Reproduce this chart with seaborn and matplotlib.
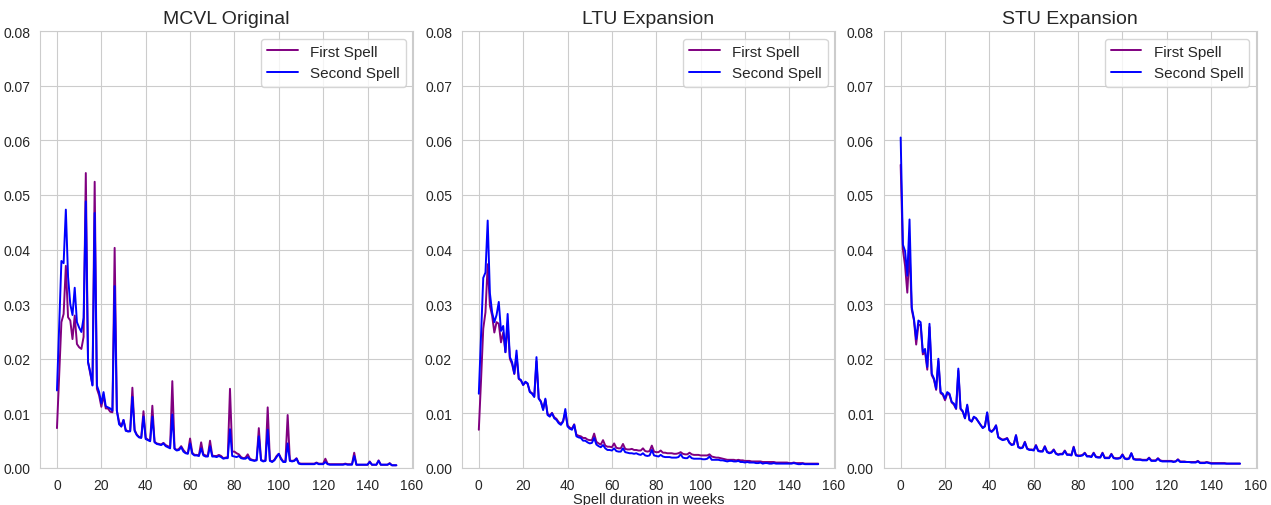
import numpy as np
import pandas as pd
from matplotlib import pyplot as plt
import seaborn as sns

# weekly exit shares (in units of 1/10000), weeks 0..153
mcvl_first = [73, 170, 267, 282, 370, 276, 270, 236, 279, 227, 221, 218, 240, 540, 194, 173, 152, 524, 145, 133,
              112, 133, 109, 109, 103, 102, 403, 105, 85, 76, 88, 70, 67, 68, 147, 70, 61, 57, 56, 104,
              55, 52, 50, 114, 48, 45, 44, 43, 46, 42, 40, 38, 159, 36, 33, 35, 40, 33, 28, 27,
              54, 28, 24, 24, 23, 47, 25, 23, 22, 50, 23, 22, 22, 24, 22, 18, 19, 20, 145, 30,
              30, 27, 25, 20, 18, 19, 25, 17, 15, 14, 15, 73, 15, 13, 14, 111, 14, 12, 15, 22,
              26, 18, 12, 12, 97, 14, 13, 14, 18, 9, 8, 8, 8, 8, 8, 8, 8, 10, 8, 8,
              8, 17, 8, 7, 7, 7, 7, 7, 7, 7, 8, 7, 7, 7, 28, 6, 6, 6, 6, 6,
              6, 12, 6, 6, 6, 14, 6, 6, 6, 6, 9, 5, 5, 5]
mcvl_second = [142, 260, 379, 375, 473, 350, 300, 280, 330, 267, 257, 249, 275, 488, 194, 176, 151, 467, 151, 139,
               118, 139, 113, 111, 109, 105, 333, 105, 80, 76, 88, 68, 67, 67, 130, 68, 60, 56, 55, 94,
               53, 51, 49, 94, 47, 44, 43, 42, 45, 40, 38, 36, 98, 35, 32, 33, 38, 30, 27, 26,
               45, 26, 23, 23, 22, 36, 23, 21, 21, 40, 21, 21, 20, 22, 20, 17, 18, 18, 71, 22,
               21, 20, 22, 18, 17, 17, 20, 15, 14, 13, 14, 58, 14, 12, 13, 70, 13, 11, 14, 20,
               26, 16, 11, 11, 45, 13, 12, 13, 17, 8, 7, 7, 7, 7, 7, 7, 7, 9, 7, 7,
               7, 11, 7, 6, 6, 6, 6, 6, 6, 6, 7, 6, 6, 6, 22, 6, 6, 6, 6, 6,
               6, 11, 6, 6, 6, 13, 6, 6, 6, 6, 8, 5, 5, 5]

ltu_first = [70, 160, 255, 285, 373, 297, 279, 248, 267, 264, 230, 248, 212, 265, 200, 190, 172, 205, 163, 160,
             152, 157, 154, 140, 137, 131, 195, 128, 122, 108, 125, 99, 96, 101, 93, 90, 84, 81, 86, 102,
             78, 74, 72, 80, 61, 59, 58, 55, 55, 52, 51, 51, 63, 48, 45, 43, 51, 41, 39, 39,
             38, 45, 37, 36, 36, 44, 35, 34, 34, 35, 33, 33, 32, 32, 36, 31, 30, 31, 41, 30,
             29, 29, 32, 28, 28, 27, 27, 27, 26, 26, 27, 29, 26, 25, 25, 28, 25, 24, 24, 24,
             23, 23, 23, 23, 25, 21, 20, 19, 19, 18, 17, 16, 15, 15, 15, 15, 14, 15, 14, 14,
             13, 13, 13, 12, 12, 12, 12, 12, 11, 11, 11, 11, 11, 11, 10, 10, 10, 10, 10, 10,
             9, 9, 10, 9, 9, 9, 9, 8, 8, 8, 8, 8, 8, 8]
ltu_second = [136, 240, 348, 358, 453, 320, 285, 267, 280, 304, 251, 260, 212, 282, 203, 194, 173, 215, 164, 161,
              152, 158, 155, 139, 136, 130, 203, 127, 121, 106, 127, 97, 94, 100, 91, 88, 82, 79, 85, 108,
              76, 72, 70, 79, 58, 56, 55, 50, 50, 47, 45, 46, 55, 43, 40, 38, 42, 36, 33, 33,
              32, 36, 31, 30, 30, 36, 29, 28, 27, 27, 26, 27, 25, 24, 27, 23, 22, 23, 33, 23,
              22, 21, 24, 21, 20, 20, 20, 19, 19, 19, 20, 25, 19, 18, 18, 22, 18, 17, 17, 17,
              17, 16, 16, 17, 21, 15, 15, 15, 15, 14, 14, 13, 12, 13, 13, 12, 12, 13, 11, 11,
              10, 11, 10, 10, 10, 9, 9, 10, 8, 9, 9, 8, 8, 9, 8, 8, 8, 8, 8, 8,
              8, 8, 9, 8, 7, 7, 8, 7, 7, 7, 7, 7, 7, 7]

stu_first = [555, 400, 370, 321, 400, 290, 270, 226, 262, 262, 208, 212, 180, 258, 170, 162, 143, 196, 137, 134,
             124, 136, 134, 120, 116, 108, 178, 108, 103, 91, 114, 88, 85, 93, 91, 85, 79, 74, 77, 101,
             70, 67, 71, 78, 57, 54, 52, 53, 55, 47, 43, 44, 60, 39, 37, 38, 48, 36, 34, 34,
             33, 42, 32, 31, 31, 40, 30, 28, 29, 34, 27, 25, 26, 26, 32, 25, 25, 24, 39, 24,
             23, 23, 24, 28, 22, 22, 21, 28, 21, 20, 20, 28, 19, 19, 19, 26, 19, 18, 18, 19,
             25, 18, 17, 18, 27, 17, 16, 16, 16, 15, 15, 15, 19, 14, 14, 14, 18, 14, 13, 13,
             13, 13, 13, 12, 12, 16, 12, 12, 12, 11, 11, 11, 11, 11, 13, 10, 10, 10, 11, 10,
             9, 9, 9, 9, 9, 9, 9, 8, 8, 8, 8, 8, 8, 8]
stu_second = [605, 409, 397, 352, 455, 294, 273, 236, 270, 267, 212, 218, 185, 264, 173, 164, 145, 200, 139, 136,
              127, 139, 136, 121, 118, 109, 182, 109, 104, 91, 116, 88, 85, 94, 91, 85, 79, 73, 76, 102,
              69, 66, 70, 78, 56, 53, 51, 52, 54, 46, 42, 43, 60, 38, 36, 37, 47, 35, 33, 33,
              32, 41, 31, 30, 30, 39, 29, 27, 28, 33, 26, 24, 25, 25, 31, 24, 24, 23, 38, 23,
              22, 22, 23, 27, 21, 21, 20, 27, 20, 19, 19, 27, 18, 18, 18, 25, 18, 17, 17, 18,
              24, 17, 16, 17, 27, 16, 15, 15, 15, 14, 14, 14, 18, 13, 13, 13, 17, 13, 12, 12,
              12, 12, 12, 11, 12, 15, 11, 11, 11, 11, 11, 10, 10, 10, 12, 9, 9, 9, 10, 9,
              8, 8, 8, 8, 8, 8, 8, 8, 8, 8, 8, 8, 8, 8]

titles = ['MCVL Original', 'LTU Expansion', 'STU Expansion']
panels = [(mcvl_first, mcvl_second), (ltu_first, ltu_second), (stu_first, stu_second)]

sns.set_style('whitegrid')
plt.rcParams['font.family'] = ['Liberation Sans', 'DejaVu Sans']

fig, axes = plt.subplots(1, 3, figsize=(12.71, 5.06), dpi=100)
fig.subplots_adjust(left=40/1271, right=1257/1271, top=1-32/506, bottom=1-469/506, wspace=0.13)

for ax, title, (first, second) in zip(axes, titles, panels):
    first = np.array(first) / 10000
    second = np.array(second) / 10000
    sns.lineplot(x=np.arange(len(first)), y=first, ax=ax, color='purple', label='First Spell', linewidth=1.4)
    sns.lineplot(x=np.arange(len(second)), y=second, ax=ax, color='blue', label='Second Spell', linewidth=1.4)
    ax.set_ylim(0, 0.08)
    ax.set_yticks(np.arange(0, 0.081, 0.01))
    ax.set_xticks(np.arange(0, 161, 20))
    ax.set_title(title, fontsize=14)
    ax.tick_params(labelsize=10)
    ax.legend(loc='upper right', fontsize=11)

axes[1].set_xlabel('Spell duration in weeks', fontsize=10.5, labelpad=0)

plt.savefig('out.png', dpi=100)
